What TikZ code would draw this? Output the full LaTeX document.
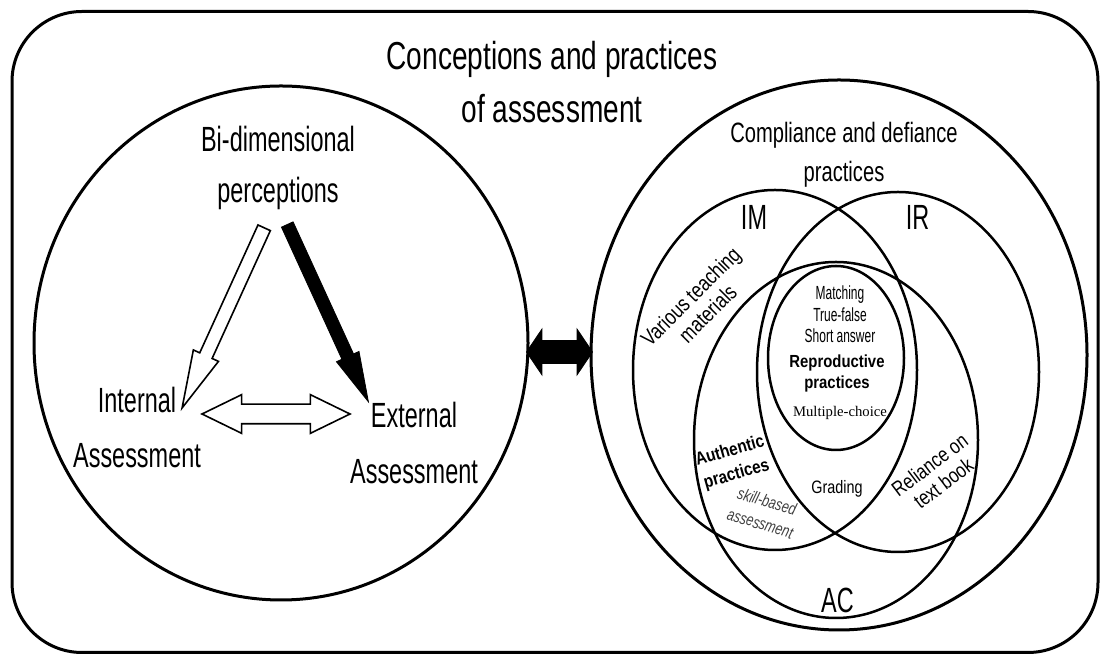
\documentclass[tikz,border=0pt]{standalone}
\usepackage{fontspec}
\setmainfont{Liberation Sans}
\newfontfamily\titlefont[FakeStretch=0.72]{Liberation Sans}
\newfontfamily\narrowfont[FakeStretch=0.67]{Liberation Sans}
\newfontfamily\tightfont[FakeStretch=0.63]{Liberation Sans}
\newfontfamily\slimfont[FakeStretch=0.8]{Liberation Sans}
\newfontfamily\boldslim[FakeStretch=0.85]{Liberation Sans}
\newfontfamily\italslim[FakeStretch=0.75]{Liberation Sans}
\newfontfamily\timesfont{Liberation Serif}
\usetikzlibrary{shapes.geometric,shapes.arrows}

\begin{document}
\begin{tikzpicture}[x=1pt, y=1pt,
  every node/.style={inner sep=0pt, align=center},
  ring/.style={ellipse, draw, line width=3pt},
  set/.style={ellipse, draw, line width=2.5pt},
  headline/.style={font=\titlefont\fontsize{39}{53}\selectfont},
  biglabel/.style={font=\narrowfont\fontsize{35}{51}\selectfont},
  midlabel/.style={font=\titlefont\fontsize{28}{39}\selectfont},
  hollowarrow/.style={single arrow, draw, fill=white, line width=1.6pt,
    inner ysep=6pt, single arrow head extend=7pt, single arrow tip angle=27,
    sloped, allow upside down},
  solidarrow/.style={single arrow, draw, fill=black, line width=0.8pt,
    inner ysep=6pt, single arrow head extend=6pt, single arrow tip angle=28,
    sloped, allow upside down},
  hollowtwin/.style={double arrow, draw, fill=white, line width=1.6pt,
    inner ysep=9pt, double arrow head extend=9.5pt, double arrow tip angle=52},
  solidtwin/.style={double arrow, draw, fill=black, line width=0.8pt,
    inner ysep=11pt, double arrow head extend=11.5pt, double arrow tip angle=112}]
  \useasboundingbox (0,0) rectangle (1101,655);

  % Frame and title
  \draw[line width=3pt, rounded corners=70pt] (12,2.5) rectangle (1098,643.5);
  \node[headline] (title) at (552,572.7) {Conceptions and practices\\of assessment};

  % Left circle: perceptions
  \node[ring, minimum width=494pt, minimum height=514pt] (lcirc) at (281,312) {};
  \node[biglabel] (perc) at (278,486.6) {Bi-dimensional\\perceptions};
  \node[biglabel, font=\narrowfont\fontsize{35}{55}\selectfont] (int) at (137,227.3) {Internal\\Assessment};
  \node[biglabel, font=\narrowfont\fontsize{35}{56}\selectfont] (ext) at (414,211.8) {External\\Assessment};

  \coordinate (pl) at (270,440);
  \coordinate (il) at (188,260);
  \coordinate (pr) at (282,442);
  \coordinate (er) at (363,265);
  \coordinate (ia) at (202,241);
  \coordinate (ea) at (350,241);
  \path (pl) -- (il) node[hollowarrow, midway, minimum height=198pt] (pi) {};
  \path (pr) -- (er) node[solidarrow, midway, minimum height=195pt] (pe) {};
  \path (ia) -- (ea) node[hollowtwin, midway, minimum height=148pt] (ie) {};

  % Right circle: compliance and defiance
  \node[ring, minimum width=496pt, minimum height=550pt] (rcirc) at (839,300) {};
  \path (lcirc.east) -- (rcirc.west) node[solidtwin, midway, yshift=-3pt, minimum height=66pt] (link) {};
  \node[midlabel] (cdp) at (844,499.75) {Compliance and defiance\\practices};

  \node[set, minimum width=284pt, minimum height=360pt] (im) at (775,285) {};
  \node[set, minimum width=282pt, minimum height=360pt] (ir) at (898,283) {};
  \node[set, minimum width=284pt, minimum height=356pt] (ac) at (836,215) {};
  \node[set, minimum width=136pt, minimum height=184pt] (rep) at (836,297) {};

  \node[biglabel] (imlbl) at (754,437.5) {IM};
  \node[biglabel] (irlbl) at (917.5,437.5) {IR};
  \node[biglabel] (aclbl) at (837.5,54.5) {AC};

  % Labels inside the sets
  \node[font=\tightfont\fontsize{19}{21.5}\selectfont] (types) at (840,340.5) {Matching\\True-false\\Short answer};
  \node[font=\boldslim\bfseries\fontsize{17.5}{21}\selectfont] (repro) at (837,281.5) {Reproductive\\practices};
  \node[font=\timesfont\fontsize{14.7}{17}\selectfont] (mcq) at (840,242.4) {Multiple-choice};
  \node[font=\slimfont\fontsize{18}{21}\selectfont] (grad) at (837,166.6) {Grading};
  \node[font=\slimfont\fontsize{22}{24}\selectfont, rotate=45] (vtm) at (699,350) {Various teaching\\materials};
  \node[font=\slimfont\fontsize{21}{23}\selectfont, rotate=37] (rtb) at (936.5,181) {Reliance on\\text book};
  \node[font=\boldslim\bfseries\fontsize{18}{24}\selectfont, rotate=16] (auth) at (733.3,192) {Authentic\\practices};
  \node[font=\italslim\itshape\fontsize{17}{23}\selectfont, text=black!75, rotate=-17] (skill) at (763.7,142.7) {skill-based\\assessment};
\end{tikzpicture}
\end{document}
